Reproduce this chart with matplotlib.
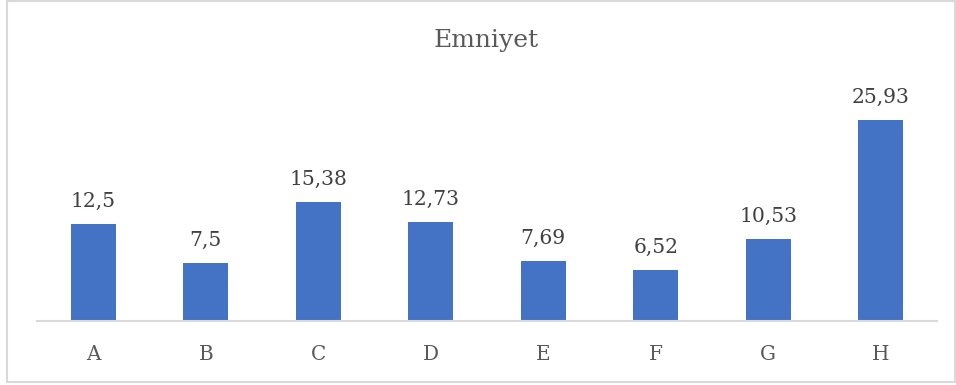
import matplotlib
matplotlib.use("Agg")
import matplotlib.pyplot as plt
from matplotlib.patches import Rectangle

categories = ["A", "B", "C", "D", "E", "F", "G", "H"]
values = [12.5, 7.5, 15.38, 12.73, 7.69, 6.52, 10.53, 25.93]
value_labels = ["12,5", "7,5", "15,38", "12,73", "7,69", "6,52", "10,53", "25,93"]
title = "Emniyet"

W, H = 956, 385
dpi = 100
fig = plt.figure(figsize=(W / dpi, H / dpi), dpi=dpi)
fig.patch.set_facecolor("white")

# outer chart border
fig.patches.append(Rectangle((6.5 / W, 1 - 382 / H), 948 / W, 381 / H,
                             transform=fig.transFigure, fill=False,
                             edgecolor="#D9D9D9", linewidth=1.5))

# plot area
left, right = 37, 937
bottom, top = 321, 88.5
ax = fig.add_axes([left / W, 1 - bottom / H, (right - left) / W, (bottom - top) / H])

x = range(len(categories))
ax.bar(x, values, width=0.4, color="#4472C4", zorder=2)
ax.set_xlim(-0.5, len(categories) - 0.5)
ax.set_ylim(0, 30)

for xi, v, lab in zip(x, values, value_labels):
    ax.annotate(lab, (xi, v), xytext=(0, 9.5), textcoords="offset points",
                ha="center", va="bottom", fontsize=14.6,
                family="DejaVu Serif", color="#404040")

ax.set_xticks(list(x))
ax.set_xticklabels(categories, fontsize=14.4, family="DejaVu Serif", color="#595959")
ax.tick_params(axis="x", length=0, pad=17)
ax.set_yticks([])
for s in ["top", "right", "left"]:
    ax.spines[s].set_visible(False)
ax.spines["bottom"].set_color("#D9D9D9")
ax.spines["bottom"].set_linewidth(1.5)
ax.set_facecolor("none")

fig.text(486 / W, 1 - 40 / H, title, ha="center", va="center",
         fontsize=18, family="DejaVu Serif", color="#595959")

fig.savefig("out.png", dpi=dpi)
